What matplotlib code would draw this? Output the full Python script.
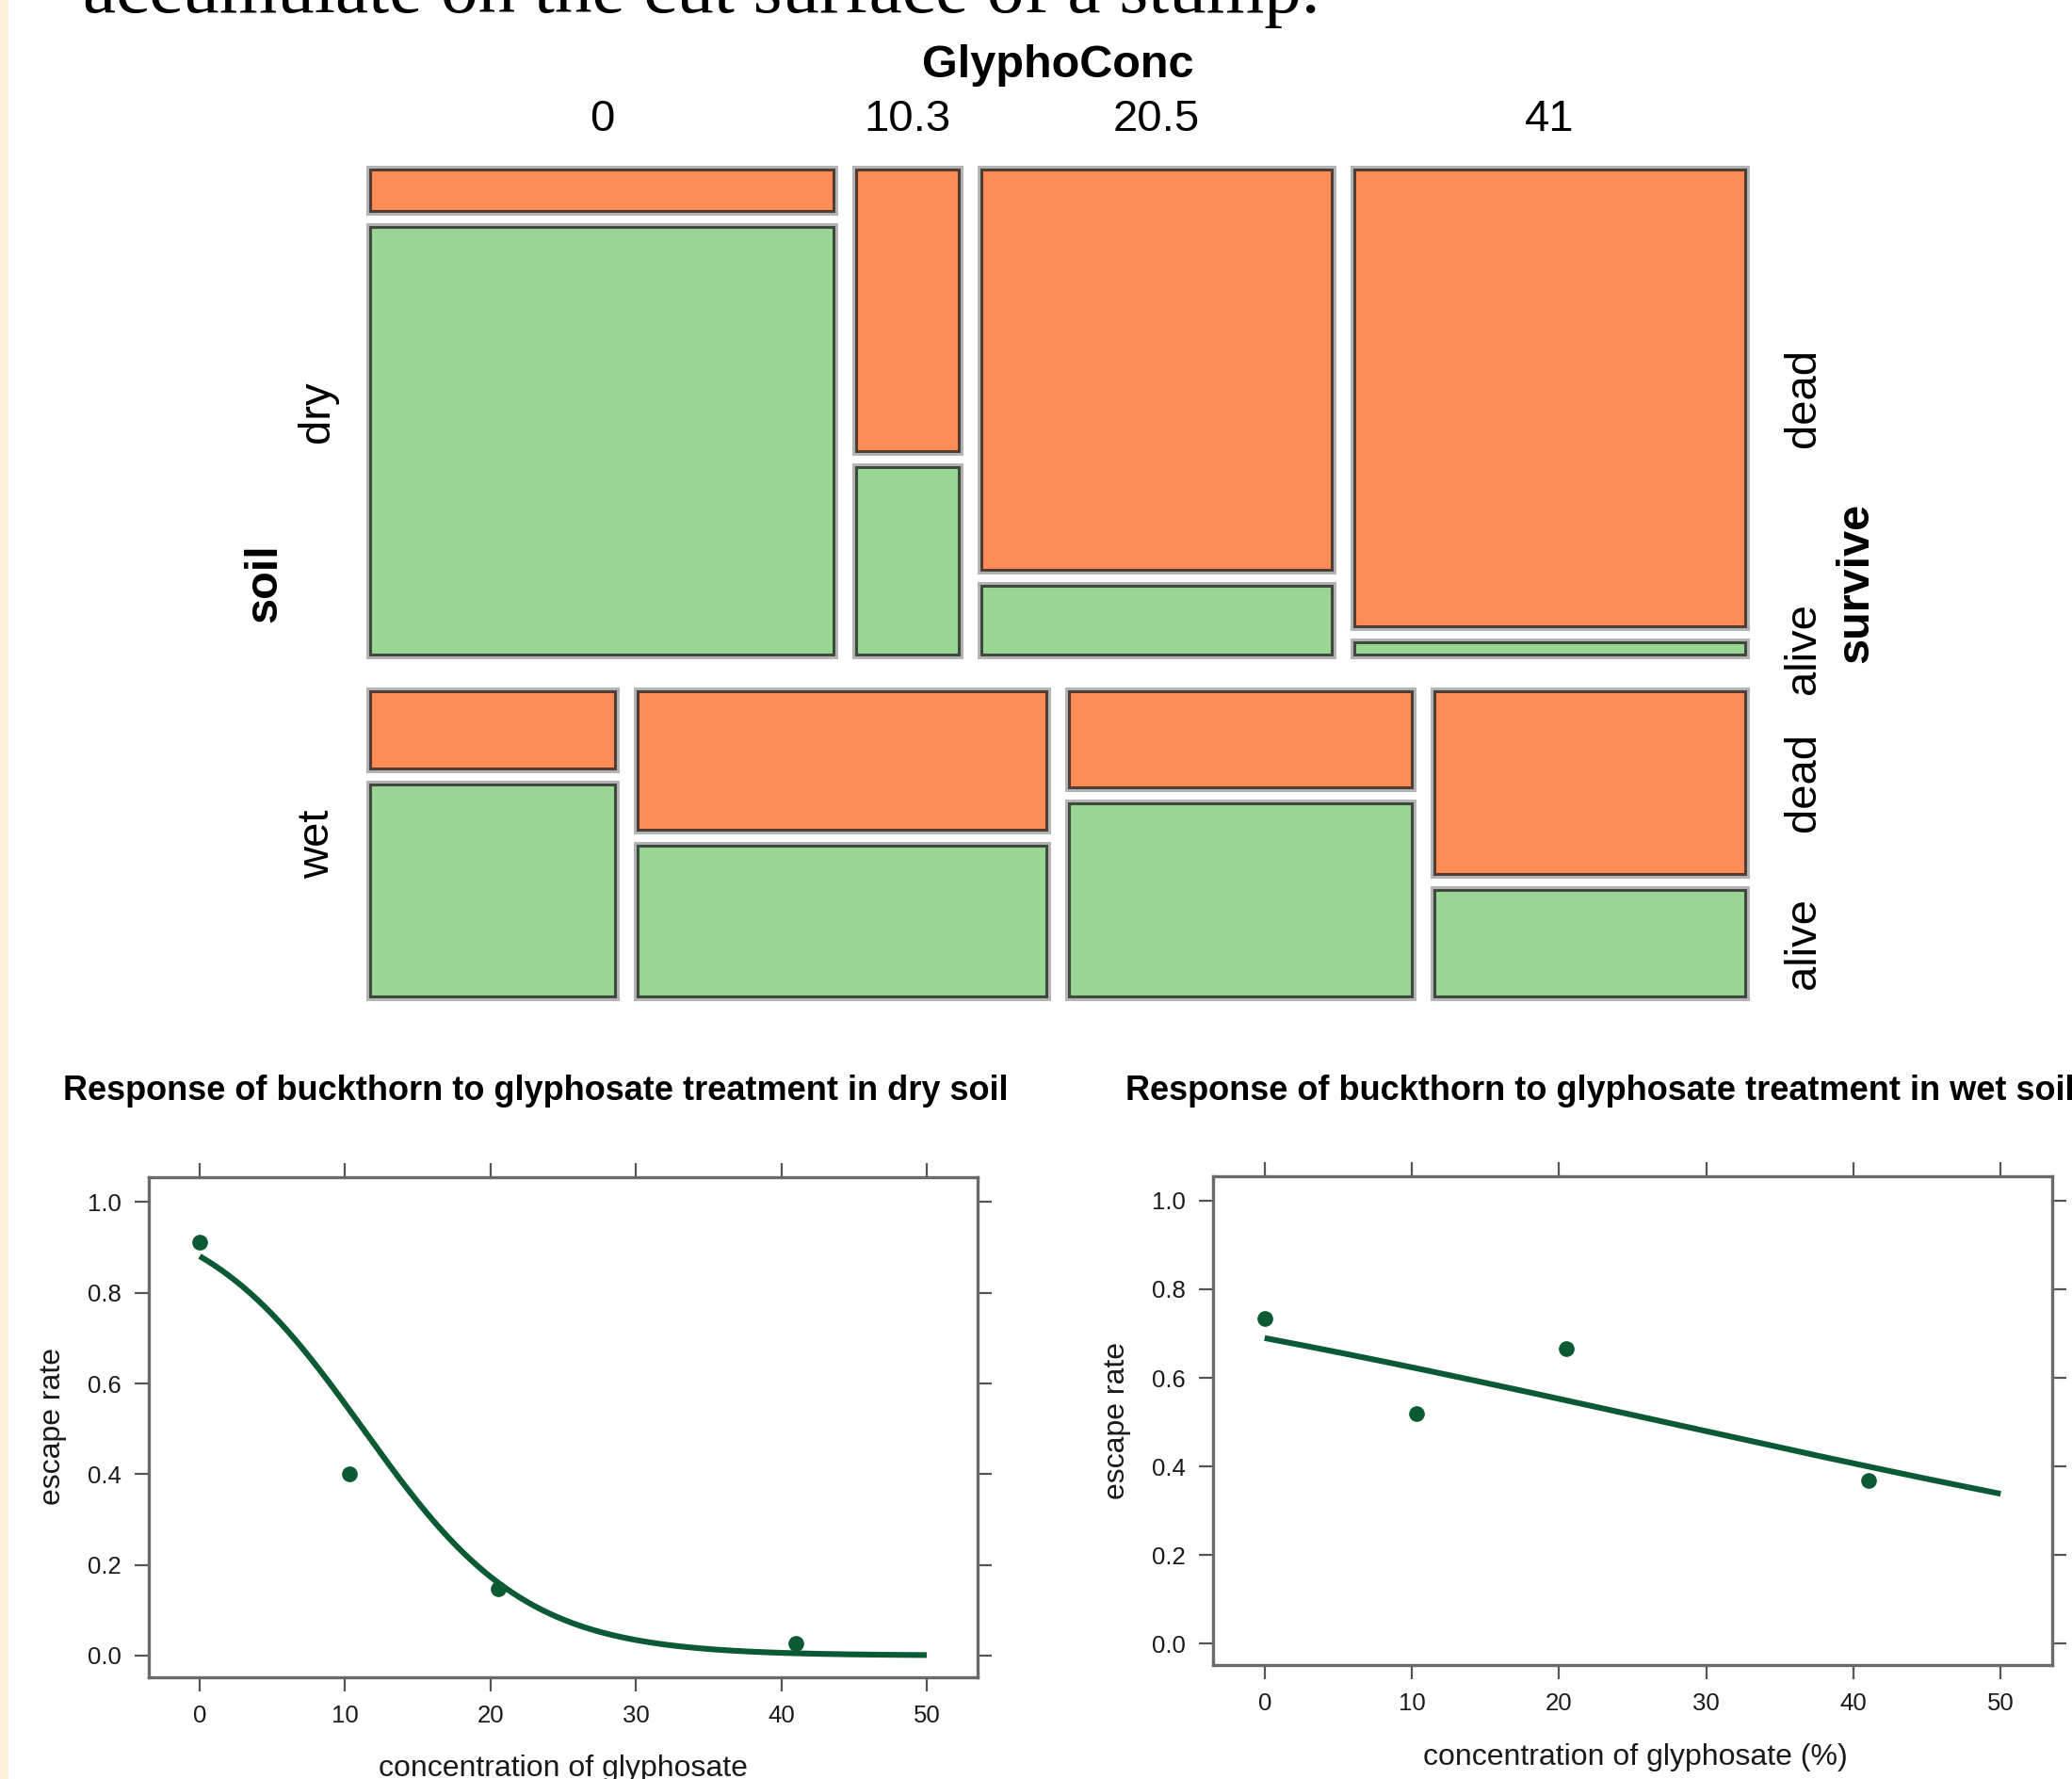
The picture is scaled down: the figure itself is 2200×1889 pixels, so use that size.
import numpy as np
import matplotlib
matplotlib.use("Agg")
import matplotlib.pyplot as plt
from matplotlib.patches import Rectangle
import matplotlib.patheffects as pe

# ---------------- data ----------------
conc_levels = ["0", "10.3", "20.5", "41"]
conc_values = [0.0, 10.3, 20.5, 41.0]
soil_levels = ["dry", "wet"]
survive_levels = ["dead", "alive"]
dry_alive = [41, 4, 5, 1]
dry_dead = [4, 6, 29, 37]
wet_alive = [11, 13, 14, 7]
wet_dead = [4, 12, 7, 12]
# fitted logistic curves (intercept, slope)
dry_fit = (2.0, -0.178)
wet_fit = (0.80, -0.0294)
x_ticks = [0, 10, 20, 30, 40, 50]
y_ticks = [0.0, 0.2, 0.4, 0.6, 0.8, 1.0]
y_ticklabels = ["0.0", "0.2", "0.4", "0.6", "0.8", "1.0"]

# ---------------- styling ----------------
W, H = 2200, 1889
SANS = ["Liberation Sans", "DejaVu Sans"]
plt.rcParams["font.family"] = SANS
ORANGE = "#fc8d59"
GREEN = "#99d594"
DKGREEN = "#0b5a34"

fig = plt.figure(figsize=(W / 100, H / 100), dpi=100)
fig.patch.set_facecolor("white")


def frect(l, t, r, b):
    return [l / W, 1 - b / H, (r - l) / W, (b - t) / H]


# cream stripe at left edge (slide background)
fig.patches.append(Rectangle((0, 0), 9 / W, 1, transform=fig.transFigure,
                             facecolor="#fcf1da", edgecolor="none", zorder=-5))

# header text cut off at the top
fig.text(88 / W, 1 - 13 / H, "accumulate on the cut surface of a stump.",
         family=["Liberation Serif", "DejaVu Serif"], fontsize=57,
         ha="left", va="baseline", color="black")

# ---------------- mosaic ----------------
mL, mT, mR, mB = 393, 180, 1853, 1058
axm = fig.add_axes(frect(mL, mT, mR, mB))
MW, MH = mR - mL, mB - mT
axm.set_xlim(0, MW)
axm.set_ylim(MH, 0)
axm.axis("off")

col_gap, row_gap, cell_gap = 24, 39, 17
rows = [(dry_dead, dry_alive), (wet_dead, wet_alive)]
row_tot = [sum(d) + sum(a) for d, a in rows]
avail_h = MH - row_gap * (len(rows) - 1)
avail_w = MW - col_gap * (len(conc_levels) - 1)

effects = [pe.Stroke(linewidth=6.5, foreground="#b4b4b4"), pe.Normal()]

y0 = 0
row_centers = []
last_cells = []
dry_col_centers = []
for ri, (dead, alive) in enumerate(rows):
    h = avail_h * row_tot[ri] / sum(row_tot)
    row_centers.append(y0 + h / 2)
    x0 = 0
    for j in range(len(conc_levels)):
        n = dead[j] + alive[j]
        w = avail_w * n / row_tot[ri]
        hd = (h - cell_gap) * dead[j] / n
        ha_ = (h - cell_gap) * alive[j] / n
        r1 = Rectangle((x0, y0), w, hd, facecolor=ORANGE,
                       edgecolor=(0, 0, 0, 0.62), linewidth=2.2, clip_on=False)
        r2 = Rectangle((x0, y0 + hd + cell_gap), w, ha_, facecolor=GREEN,
                       edgecolor=(0, 0, 0, 0.62), linewidth=2.2, clip_on=False)
        for r in (r1, r2):
            r.set_path_effects(effects)
            axm.add_patch(r)
        if ri == 0:
            dry_col_centers.append(x0 + w / 2)
        if j == len(conc_levels) - 1:
            last_cells.append((y0 + hd / 2, y0 + hd + cell_gap + ha_ / 2))
        x0 += w + col_gap
    y0 += h + row_gap

# mosaic labels
for cx, lab in zip(dry_col_centers, conc_levels):
    axm.text(cx, 127 - mT, lab, ha="center", va="center", fontsize=34)
axm.text(MW / 2, 69 - mT, "GlyphoConc", ha="center", va="center",
         fontsize=35, weight="bold")
axm.text(281 - mL, MH / 2, "soil", rotation=90, ha="center", va="center",
         fontsize=35, weight="bold")
for yc, lab in zip(row_centers, soil_levels):
    axm.text(337 - mL, yc, lab, rotation=90, ha="center", va="center", fontsize=34)
for (yd, ya) in last_cells:
    axm.text(1915 - mL, yd, survive_levels[0], rotation=90, ha="center",
             va="center", fontsize=34)
    axm.text(1915 - mL, ya, survive_levels[1], rotation=90, ha="center",
             va="center", fontsize=34)
axm.text(1971 - mL, MH / 2, "survive", rotation=90, ha="center", va="center",
         fontsize=35, weight="bold")


# ---------------- response plots ----------------
def panel(box, alive, dead, fit, title, title_xy, xlabel, xlabel_xy, ylabel_xy):
    ax = fig.add_axes(frect(*box))
    ax.set_xlim(-3.5, 53.5)
    ax.set_ylim(-0.048, 1.055)
    rate = [a / (a + d) for a, d in zip(alive, dead)]
    xs = np.linspace(0, 50, 300)
    eta = fit[0] + fit[1] * xs
    ax.plot(xs, 1 / (1 + np.exp(-eta)), color=DKGREEN, lw=4.4,
            solid_capstyle="butt", zorder=3)
    ax.plot(conc_values, rate, "o", color=DKGREEN, markersize=11, zorder=4)
    ax.set_xticks(x_ticks)
    ax.set_xticklabels([str(t) for t in x_ticks])
    ax.set_yticks(y_ticks)
    ax.set_yticklabels(y_ticklabels)
    ax.tick_params(direction="out", length=11, width=1.6, color="#555555",
                   labelsize=18.5, pad=10, labelcolor="#1a1a1a",
                   top=True, right=True, labeltop=False, labelright=False)
    for s in ax.spines.values():
        s.set_color("#6a6a6a")
        s.set_linewidth(2.4)
    fig.text(title_xy[0] / W, 1 - title_xy[1] / H, title, ha="left",
             va="center", fontsize=26, weight="bold")
    fig.text(xlabel_xy[0] / W, 1 - xlabel_xy[1] / H, xlabel, ha="center",
             va="center", fontsize=23, color="#1a1a1a")
    fig.text(ylabel_xy[0] / W, 1 - ylabel_xy[1] / H, "escape rate",
             rotation=90, ha="center", va="center", fontsize=23, color="#1a1a1a")
    return ax


panel((158, 1250, 1038, 1781), dry_alive, dry_dead, dry_fit,
      "Response of buckthorn to glyphosate treatment in dry soil", (67, 1158),
      "concentration of glyphosate", (598, 1878), (56, 1515))
panel((1288, 1249, 2179, 1768), wet_alive, wet_dead, wet_fit,
      "Response of buckthorn to glyphosate treatment in wet soil", (1195, 1158),
      "concentration of glyphosate (%)", (1736, 1866), (1186, 1508))

fig.savefig("out.png", dpi=100)
